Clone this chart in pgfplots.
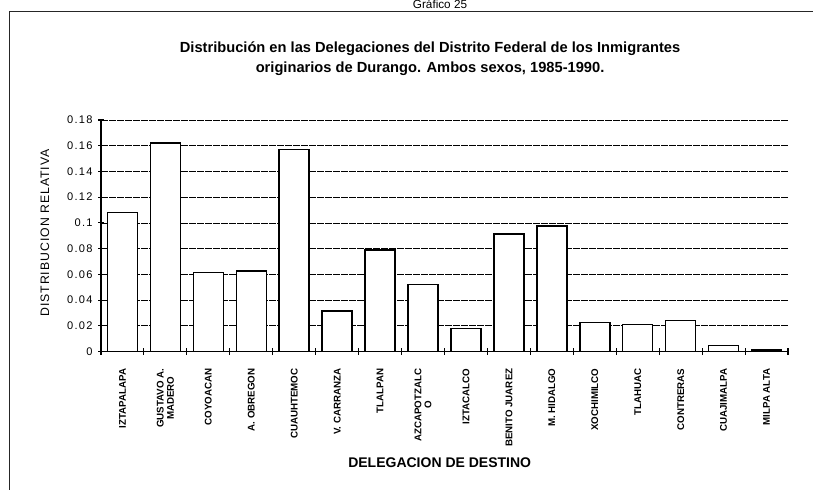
\documentclass[border=0pt]{standalone}
\usepackage{fontspec}
\setmainfont{Liberation Sans}
\newfontfamily\spaced[LetterSpace=12]{Liberation Sans}
\newfontfamily\spacedy[LetterSpace=8]{Liberation Sans}
\usepackage{pgfplots}
\pgfplotsset{compat=1.18}
\begin{document}
\begin{tikzpicture}
\useasboundingbox (0,0) rectangle (609.75pt,366.75pt);
% frame of the page
\draw[line width=0.7pt, black!85] (6.75pt,-5pt) -- (6.75pt,358.5pt) -- (620pt,358.5pt);
\node[anchor=base, font=\fontsize{8.8}{10}\selectfont, inner sep=0pt] at (330pt,360.4pt) {Gráfico 25};
\begin{axis}[
  at={(75.75pt,103.125pt)}, anchor=south west,
  scale only axis, width=515.25pt, height=173.625pt,
  xmin=-0.5, xmax=15.5, ymin=0, ymax=0.18,
  axis lines*=left,
  axis line style={line width=0.9pt},
  ytick={0,0.02,0.04,0.06,0.08,0.1,0.12,0.14,0.16,0.18},
  yticklabels={0,0.02,0.04,0.06,0.08,0.1,0.12,0.14,0.16,0.18},
  yticklabel style={font=\spaced\fontsize{8.3}{9}\selectfont, xshift=-0.5pt},
  ymajorgrids,
  major grid style={black, line width=0.55pt, dash pattern=on 5pt off 1pt},
  tick align=center,
  major tick length=4.5pt, minor tick length=5pt,
  tick style={black, line width=0.8pt},
  xtick={0,...,15},
  major x tick style={draw=none},
  minor xtick={-0.5,0.5,...,15.5},
  xticklabels={IZTAPALAPA,{GUSTAVO A.\\MADERO},COYOACAN,A. OBREGON,CUAUHTEMOC,V. CARRANZA,TLALPAN,{AZCAPOTZALC\\O},IZTACALCO,BENITO JUAREZ,M. HIDALGO,XOCHIMILCO,TLAHUAC,CONTRERAS,CUAJIMALPA,MILPA ALTA},
  xticklabel style={rotate=90, anchor=east, align=center, font=\bfseries\fontsize{7.3}{7.6}\selectfont},
  xticklabel shift=7pt,
  xlabel={DELEGACION DE DESTINO},
  xlabel style={at={(axis description cs:0.493,-0.482)}, anchor=center, font=\bfseries\fontsize{10.5}{12}\selectfont},
  ylabel={DISTRIBUCION RELATIVA},
  ylabel style={at={(axis description cs:-0.0815,0.512)}, anchor=center, rotate=0, font=\spacedy\fontsize{9.2}{10}\selectfont},
  title={Distribución en las Delegaciones del Distrito Federal de los Inmigrantes\\originarios de Durango. Ambos sexos, 1985-1990.},
  title style={at={(axis description cs:0.479,1.229)}, anchor=center, align=center, font=\bfseries\fontsize{11}{15}\selectfont},
]
\addplot[ybar, bar width=22.5pt, fill=white, draw=black, line width=1.1pt] coordinates {
 (0,0.108) (1,0.162) (2,0.0615) (3,0.0625) (4,0.157) (5,0.0315) (6,0.079) (7,0.0523)
 (8,0.018) (9,0.0914) (10,0.0977) (11,0.0224) (12,0.021) (13,0.024) (14,0.0047) (15,0.001)
};
\end{axis}
\end{tikzpicture}
\end{document}
